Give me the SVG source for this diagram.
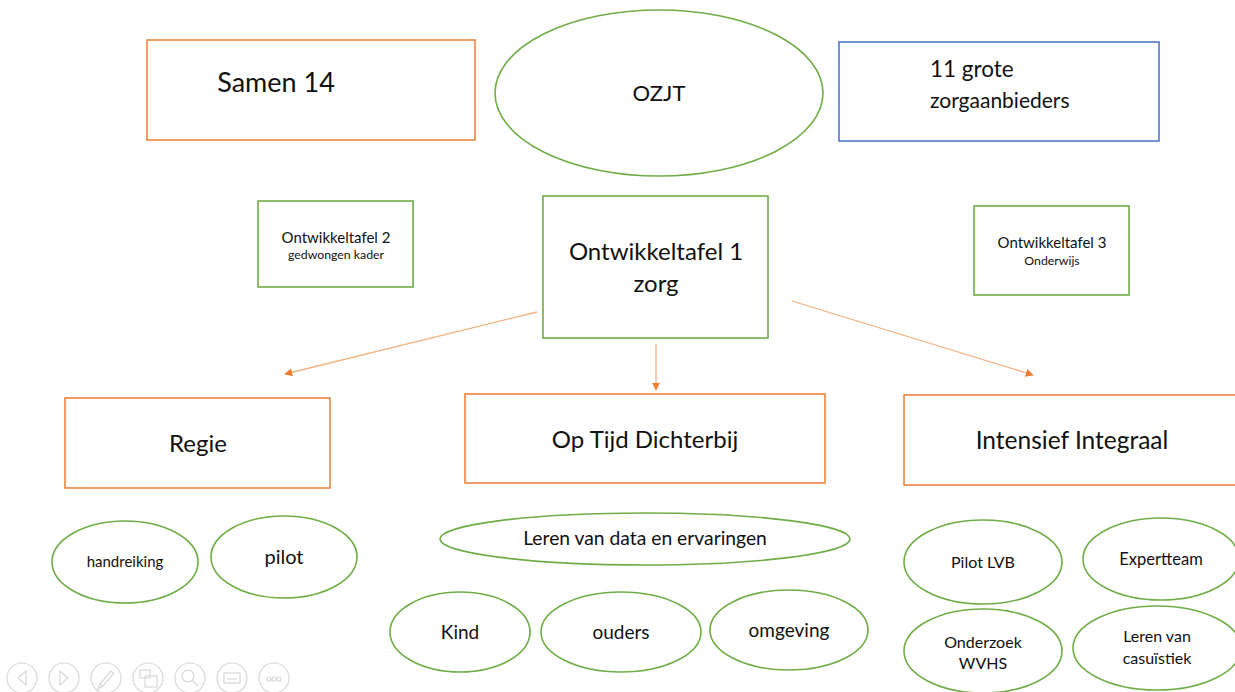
<svg xmlns="http://www.w3.org/2000/svg" width="1235" height="692" viewBox="0 0 1235 692">
<style>
text{font-family:Lato,"Open Sans","Liberation Sans",sans-serif;fill:#111;text-anchor:middle}
.or{fill:#fff;stroke:#ED7D31;stroke-width:1.5}
.bl{fill:#fff;stroke:#4472C4;stroke-width:1.5}
.gr{fill:#fff;stroke:#70AD47;stroke-width:1.6}
.big{font-size:24px}
.med{font-size:19px}
.sm{font-size:16px}
.t13{font-size:15px}
.t11{font-size:12.3px}
.con{stroke:#F4B183;stroke-width:1.3;fill:none;marker-end:url(#ah)}
.ic{fill:none;stroke:#d8d8d8;stroke-width:1.2}
</style>
<defs>
<marker id="ah" viewBox="0 0 10 10" refX="9" refY="5" markerWidth="8" markerHeight="8" orient="auto" markerUnits="userSpaceOnUse">
<path d="M0,0 L10,5 L0,10 z" fill="#ED7D31"/>
</marker>
</defs>
<rect width="1235" height="692" fill="#fff"/>
<g id="samen14"><rect class="or" x="147" y="40" width="328" height="100"/><text x="276" y="92" style="font-size:27px">Samen 14</text></g>
<g id="ozjt"><ellipse class="gr" cx="659" cy="93" rx="164" ry="83"/><text x="659" y="101" style="font-size:22px">OZJT</text></g>
<g id="zorgaanbieders"><rect class="bl" x="839" y="42" width="320" height="99"/><text x="930" y="77" style="text-anchor:start;font-size:22.5px">11 grote</text><text x="930" y="108" style="text-anchor:start;font-size:21px">zorgaanbieders</text></g>
<g id="ot2"><rect class="gr" x="258" y="201" width="155" height="86"/><text class="t13" x="336" y="243">Ontwikkeltafel 2</text><text class="t11" x="336" y="259">gedwongen kader</text></g>
<g id="ot1"><rect class="gr" x="543" y="196" width="225" height="142"/><text class="big" x="656" y="260">Ontwikkeltafel 1</text><text class="big" x="656" y="292">zorg</text></g>
<g id="ot3"><rect class="gr" x="974" y="206" width="155" height="89"/><text class="t13" x="1052" y="248">Ontwikkeltafel 3</text><text class="t11" x="1052" y="265">Onderwijs</text></g>
<g id="connectors">
<line class="con" x1="537" y1="312" x2="285" y2="374"/>
<line class="con" x1="656" y1="344" x2="656" y2="390"/>
<line class="con" x1="792" y1="301" x2="1033" y2="375"/>
</g>
<g id="regie"><rect class="or" x="65" y="398" width="265" height="90"/><text class="big" x="198" y="452">Regie</text></g>
<g id="optijd"><rect class="or" x="465" y="394" width="360" height="89"/><text class="big" x="645" y="448">Op Tijd Dichterbij</text></g>
<g id="intensief"><rect class="or" x="904" y="395" width="340" height="90"/><text x="1072" y="449" style="font-size:24.5px">Intensief Integraal</text></g>
<g id="handreiking"><ellipse class="gr" cx="125" cy="562" rx="73" ry="41"/><text x="125" y="567" style="font-size:15px">handreiking</text></g>
<g id="pilot"><ellipse class="gr" cx="284" cy="557" rx="73" ry="41"/><text x="284" y="564" style="font-size:20px">pilot</text></g>
<g id="lerendata"><ellipse class="gr" cx="645" cy="539" rx="205" ry="26"/><text x="645" y="545" style="font-size:19.3px">Leren van data en ervaringen</text></g>
<g id="kind"><ellipse class="gr" cx="460" cy="632" rx="70" ry="40"/><text class="med" x="460" y="639">Kind</text></g>
<g id="ouders"><ellipse class="gr" cx="621" cy="632" rx="80" ry="40"/><text class="med" x="621" y="639">ouders</text></g>
<g id="omgeving"><ellipse class="gr" cx="789" cy="630" rx="79" ry="40"/><text class="med" x="789" y="637">omgeving</text></g>
<g id="pilotlvb"><ellipse class="gr" cx="983" cy="562" rx="79" ry="42"/><text class="sm" x="983" y="568">Pilot LVB</text></g>
<g id="expertteam"><ellipse class="gr" cx="1161" cy="559" rx="78" ry="41"/><text x="1161" y="565" style="font-size:16.5px">Expertteam</text></g>
<g id="onderzoek"><ellipse class="gr" cx="983" cy="651" rx="79" ry="42"/><text class="sm" x="983" y="648">Onderzoek</text><text class="sm" x="983" y="669">WVHS</text></g>
<g id="casuistiek"><ellipse class="gr" cx="1157" cy="648" rx="84" ry="42"/><text class="sm" x="1157" y="642">Leren van</text><text class="sm" x="1157" y="664">casuïstiek</text></g>
<g id="toolbar">
<circle class="ic" cx="22" cy="678" r="15"/><path class="ic" d="M26,671 L18,678 L26,685 z"/>
<circle class="ic" cx="64" cy="678" r="15"/><path class="ic" d="M60,671 L68,678 L60,685 z"/>
<circle class="ic" cx="106" cy="678" r="15"/><path class="ic" d="M100,684 L111,671 L114,673 L103,686 z M100,684 L98,689 L103,686"/>
<circle class="ic" cx="148" cy="678" r="15"/><rect class="ic" x="140" y="670" width="10" height="8"/><rect class="ic" x="145" y="676" width="12" height="11"/>
<circle class="ic" cx="190" cy="678" r="15"/><circle class="ic" cx="188" cy="676" r="6"/><path class="ic" d="M192,680 L198,686"/>
<circle class="ic" cx="232" cy="678" r="15"/><rect class="ic" x="224" y="673" width="16" height="10"/><path class="ic" d="M227,679 H237"/>
<circle class="ic" cx="274" cy="678" r="15"/><circle class="ic" cx="269" cy="679" r="2"/><circle class="ic" cx="274" cy="679" r="2"/><circle class="ic" cx="279" cy="679" r="2"/>
</g>
</svg>
